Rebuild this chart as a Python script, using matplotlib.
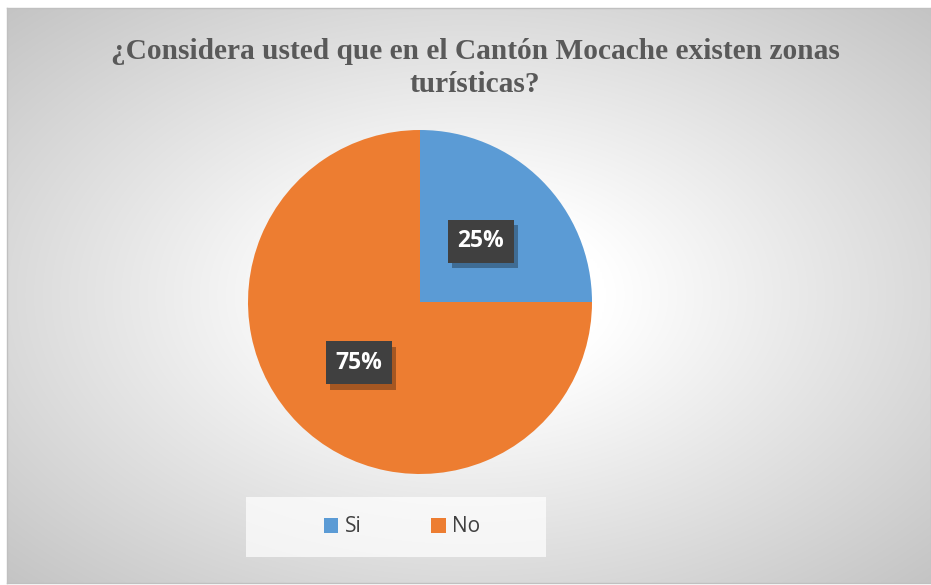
import numpy as np
import matplotlib
matplotlib.use("Agg")
import matplotlib.pyplot as plt
from matplotlib.patches import Patch, Rectangle
import matplotlib.patheffects as pe

# survey answers
labels = ["Si", "No"]
values = [25, 75]
colors = ["#5B9BD5", "#ED7D31"]
title = "¿Considera usted que en el Cantón Mocache existen zonas\nturísticas?"

W, H = 931, 585
fig = plt.figure(figsize=(W / 100, H / 100), dpi=100, facecolor="white")

# chart area with radial gray gradient (pixel coords)
x0, y0, x1, y1 = 7, 8, 931, 583
bg = fig.add_axes([x0 / W, 1 - y1 / H, (x1 - x0) / W, (y1 - y0) / H])
gx = np.linspace(-1, 1, 400)
gy = np.linspace(-1, 1, 260)
X, Y = np.meshgrid(gx, gy)
d = np.sqrt(X ** 2 + Y ** 2)
t = np.clip((d - 0.3) / (1.41 - 0.3), 0, 1)
v = 1 - 0.23 * t
bg.imshow(np.dstack([v, v, v]), aspect="auto", extent=[0, 1, 0, 1], interpolation="bilinear")
bg.set_xlim(0, 1)
bg.set_ylim(0, 1)
for s in bg.spines.values():
    s.set_color("#c0c0c0")
    s.set_linewidth(1)
bg.set_xticks([])
bg.set_yticks([])

# title
fig.text(475 / W, 1 - 68 / H, title, ha="center", va="center",
         family="Liberation Serif", weight="bold", fontsize=21.2,
         color="#595959", linespacing=1.33)

# pie: centre (420, 302), radius 172 px
cx, cy, r = 420, 302, 172
ax = fig.add_axes([(cx - r) / W, 1 - (cy + r) / H, 2 * r / W, 2 * r / H])
ax.set_facecolor("none")
wedges, texts, autotexts = ax.pie(values, colors=colors, startangle=90, counterclock=False,
                                  autopct="%1.0f%%", pctdistance=0.5, radius=1,
                                  textprops=dict(color="white", weight="bold",
                                                 family="Open Sans", fontsize=16.5))
ax.set_xlim(-1, 1)
ax.set_ylim(-1, 1)
for at in autotexts:
    at.set_bbox(dict(boxstyle="square,pad=0.42", fc="#404040", ec="none"))
    at.get_bbox_patch().set_path_effects([
        pe.SimplePatchShadow(offset=(3, -4), shadow_rgbFace="black", alpha=0.3),
        pe.Normal()])

# legend box
fig.patches.append(Rectangle((246 / W, 1 - 557 / H), 300 / W, 60 / H,
                             transform=fig.transFigure, fc="white", ec="none",
                             alpha=0.7, zorder=1))
handles = [Patch(facecolor=c, edgecolor="none") for c in colors]
leg = fig.legend(handles, labels, loc="center", bbox_to_anchor=(402 / W, 1 - 527 / H),
                 ncol=2, frameon=False, handlelength=0.7, handleheight=0.7,
                 handletextpad=0.3, columnspacing=3.35,
                 prop=dict(family="Open Sans", size=15))
for txt in leg.get_texts():
    txt.set_color("#404040")

fig.savefig("out.png", dpi=100, facecolor="white")
